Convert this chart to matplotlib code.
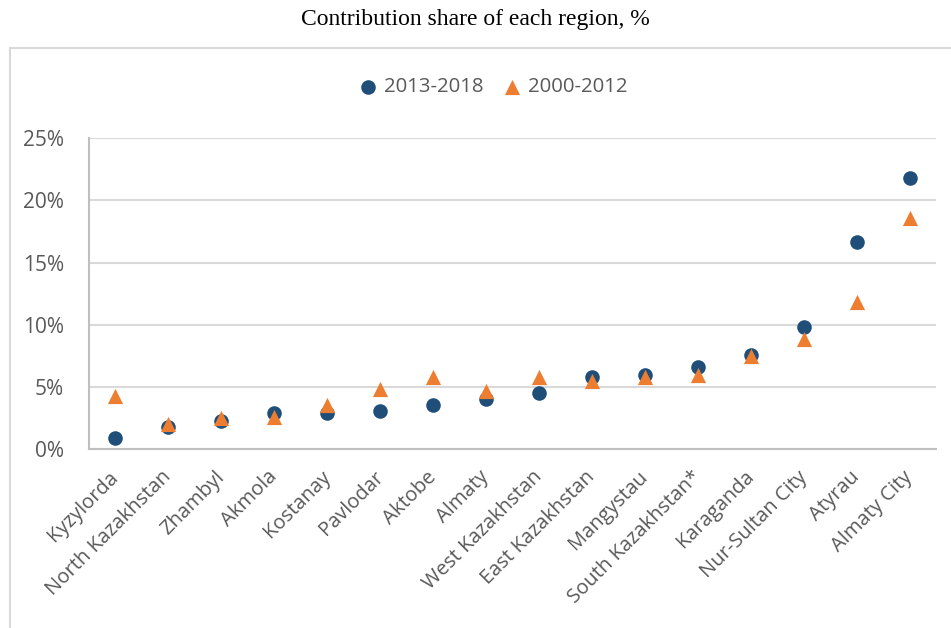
import matplotlib
matplotlib.use('Agg')
from matplotlib import pyplot as plt
from matplotlib.patches import Rectangle
from matplotlib.ticker import FuncFormatter
from matplotlib.transforms import ScaledTranslation

regions = ['Kyzylorda', 'North Kazakhstan', 'Zhambyl', 'Akmola', 'Kostanay', 'Pavlodar',
           'Aktobe', 'Almaty', 'West Kazakhstan', 'East Kazakhstan', 'Mangystau',
           'South Kazakhstan*', 'Karaganda', 'Nur-Sultan City', 'Atyrau', 'Almaty City']
share_2013_2018 = [0.9, 1.8, 2.25, 2.9, 2.9, 3.05, 3.5, 4.0, 4.5, 5.8, 5.95, 6.6, 7.55, 9.8, 16.65, 21.8]
share_2000_2012 = [4.3, 2.0, 2.5, 2.6, 3.5, 4.8, 5.8, 4.65, 5.8, 5.5, 5.8, 5.95, 7.5, 8.85, 11.8, 18.6]
yticks = [0, 5, 10, 15, 20, 25]

navy = '#1F4E79'
orange = '#ED7D31'
grey_text = '#595959'

fig = plt.figure(figsize=(9.51, 6.28), dpi=100)
ax = fig.add_axes([0.0936, 0.285, 0.891, 0.495])

# chart area border (top and left edges only visible)
fig.patches.append(Rectangle((10 / 951, -0.1), 1.5, 1 - 48 / 628 + 0.1, transform=fig.transFigure,
                             fill=False, edgecolor='#D9D9D9', linewidth=1.5))

x = list(range(len(regions)))
ax.scatter(x, share_2013_2018, s=110, marker='o', color=navy, label='2013-2018', zorder=3, linewidths=0)
ax.scatter(x, share_2000_2012, s=120, marker='^', color=orange, label='2000-2012', zorder=4, linewidths=0)

ax.set_xlim(-0.5, len(regions) - 0.5)
ax.set_ylim(0, 25)
ax.set_yticks(yticks)
ax.yaxis.set_major_formatter(FuncFormatter(lambda v, p: '%d%%' % v))
ax.grid(axis='y', color='#D9D9D9', linewidth=1.5)
ax.set_axisbelow(True)

for side in ['top', 'right']:
    ax.spines[side].set_visible(False)
for side in ['left', 'bottom']:
    ax.spines[side].set_color('#BFBFBF')
    ax.spines[side].set_linewidth(1.5)

ax.set_xticks(x)
ax.set_xticklabels(regions, rotation=45, ha='right', rotation_mode='anchor',
                   fontfamily='Open Sans', fontsize=14.5, color=grey_text)
ax.tick_params(axis='x', length=0, pad=13)
shift = ScaledTranslation(-7 / 100, 0, fig.dpi_scale_trans)
for lbl in ax.get_xticklabels():
    lbl.set_transform(lbl.get_transform() + shift)
ax.tick_params(axis='y', length=0, pad=18, labelsize=15, labelcolor=grey_text)
for lbl in ax.get_yticklabels():
    lbl.set_fontfamily('Open Sans')

leg = fig.legend(loc='center', bbox_to_anchor=(0.518, 1 - 87 / 628), ncol=2, frameon=False,
                 prop={'family': 'Open Sans', 'size': 14.7}, handlelength=1.0, handletextpad=0.3,
                 columnspacing=0.9)
for t in leg.get_texts():
    t.set_color(grey_text)

fig.text(0.5, 1 - 20 / 628, 'Contribution share of each region, %', ha='center', va='center',
         fontfamily='Liberation Serif', fontsize=17)

fig.savefig('out.png', dpi=100)
